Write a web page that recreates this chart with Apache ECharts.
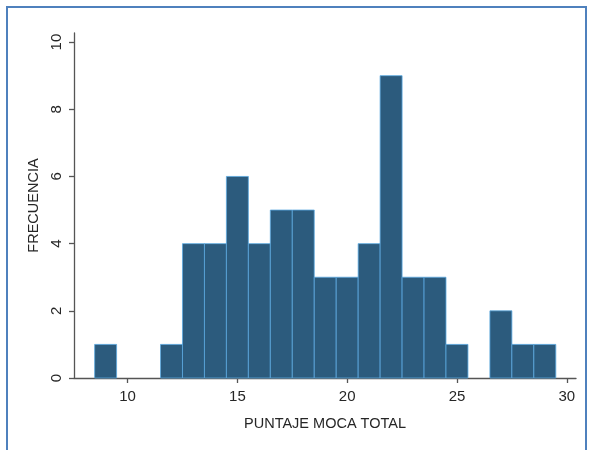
<!DOCTYPE html>
<html>
<head>
<meta charset="utf-8">
<script src="https://cdn.jsdelivr.net/npm/echarts@6/dist/echarts.min.js"></script>
<style>
html,body{margin:0;padding:0;background:#fff;}
#c{width:592px;height:450px;}
</style>
</head>
<body>
<div id="c"></div>
<script>
// Histogram bins (bin centers, width 1) and frequencies
const binCenters = [9,10,11,12,13,14,15,16,17,18,19,20,21,22,23,24,25,26,27,28,29];
const frequencies = [1,0,0,1,4,4,6,4,5,5,3,3,4,9,3,3,1,0,2,1,1];
const xTicks = [10,15,20,25,30];
const yTicks = [0,2,4,6,8,10];
const xTitle = 'PUNTAJE MOCA TOTAL';
const yTitle = 'FRECUENCIA';

const chart = echarts.init(document.getElementById('c'), null, {renderer:'canvas'});
const font = 'Liberation Sans, Arial, sans-serif';
const data = binCenters.map((c,i)=>[c, frequencies[i]]);

chart.setOption({
  animation:false,
  backgroundColor:'#fff',
  grid:{left:74, right:16, top:33, bottom:72, containLabel:false},
  xAxis:{
    type:'value', min:7.56, max:30.42,
    name:xTitle, nameLocation:'middle', nameGap:38,
    nameTextStyle:{color:'#262626', fontSize:14.5, fontFamily:font},
    axisLine:{show:true, onZero:false, lineStyle:{color:'#555', width:1.3}},
    axisTick:{show:true, length:5, customValues:xTicks, lineStyle:{color:'#555', width:1.3}},
    axisLabel:{customValues:xTicks, color:'#262626', fontSize:15, fontFamily:font, margin:11},
    splitLine:{show:false}
  },
  yAxis:{
    type:'value', min:0, max:10.27,
    name:yTitle, nameLocation:'middle', nameGap:28, nameRotate:90,
    nameTextStyle:{color:'#262626', fontSize:14.5, fontFamily:font},
    axisLine:{show:true, onZero:false, lineStyle:{color:'#555', width:1.3}},
    axisTick:{show:true, length:5, customValues:yTicks, lineStyle:{color:'#555', width:1.3}},
    axisLabel:{customValues:yTicks, rotate:90, color:'#262626', fontSize:15, fontFamily:font, margin:10},
    splitLine:{show:false}
  },
  graphic:[{
    type:'rect', silent:true, z:100,
    shape:{x:7, y:7, width:579, height:470},
    style:{fill:'none', stroke:'#4f81bd', lineWidth:2}
  }],
  series:[{
    type:'custom',
    data:data,
    encode:{x:0, y:1},
    renderItem:function(params, api){
      const c = api.value(0), v = api.value(1);
      if (!v) return null;
      const p0 = api.coord([c-0.5, v]);
      const p1 = api.coord([c+0.5, 0]);
      return {
        type:'rect',
        shape:{x:p0[0], y:p0[1], width:p1[0]-p0[0], height:p1[1]-p0[1]},
        style:{fill:'#2c5b7d', stroke:'#5aa8e0', lineWidth:0.8}
      };
    }
  }]
});
</script>
</body>
</html>
